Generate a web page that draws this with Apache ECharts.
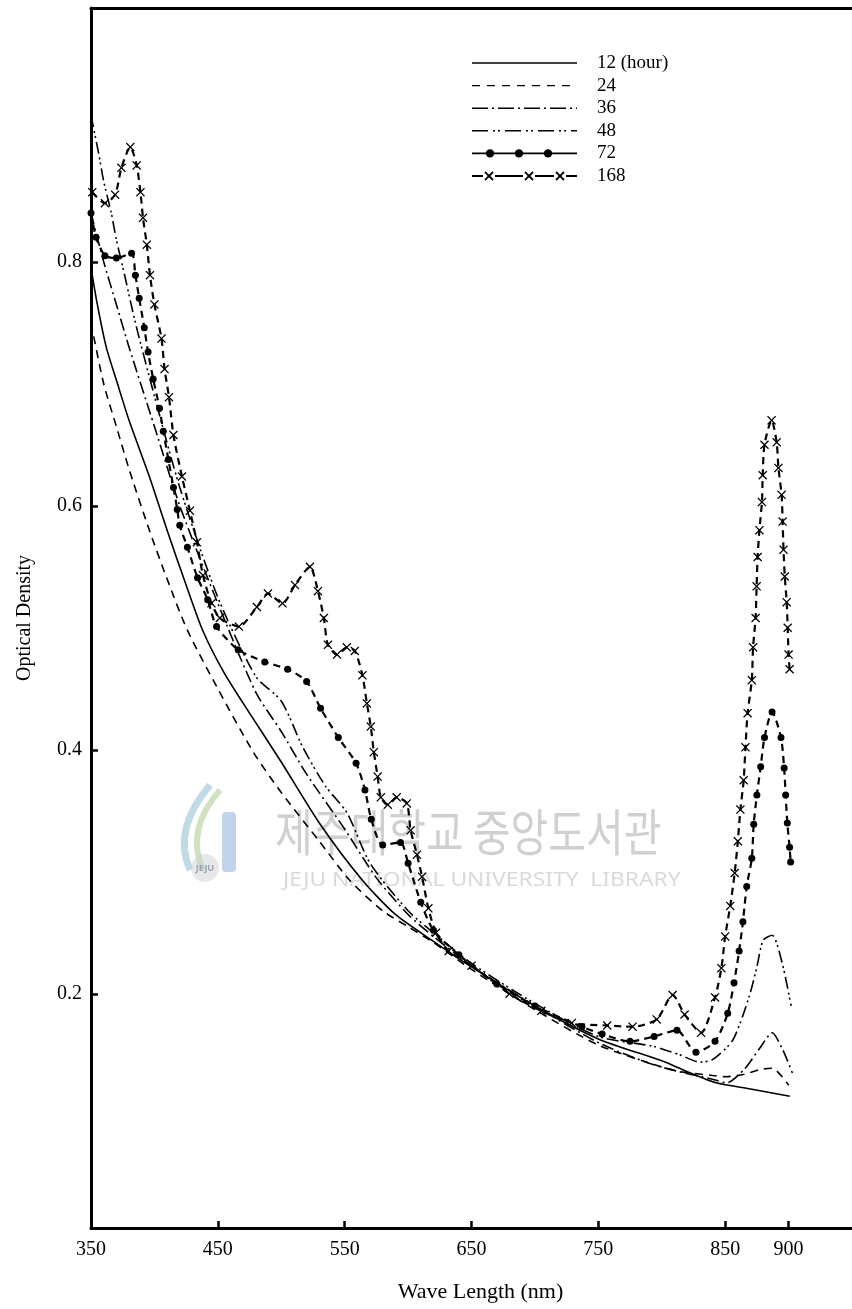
<!DOCTYPE html>
<html>
<head>
<meta charset="utf-8">
<script src="https://cdn.jsdelivr.net/npm/echarts@6/dist/echarts.min.js"></script>
<style>
  html, body { margin: 0; padding: 0; background: #fff; }
  #chart { width: 852px; height: 1309px; }
</style>
</head>
<body>
<div id="chart"></div>
<script>
// values
const hourNames = ["12 (hour)", "24", "36", "48", "72", "168"];
const xTicks = [350, 450, 550, 650, 750, 850, 900];
const yTicks = [0.2, 0.4, 0.6, 0.8];

const wl12 = [350, 355, 362, 370, 380, 396, 410, 425, 438, 455, 475, 500, 530, 564, 590, 620, 650, 700, 750, 800, 816, 843, 870, 885, 901];
const od12 = [0.795, 0.765, 0.73, 0.703, 0.67, 0.624, 0.58, 0.535, 0.498, 0.463, 0.43, 0.39, 0.34, 0.293, 0.265, 0.243, 0.222, 0.19, 0.163, 0.145, 0.138, 0.127, 0.122, 0.119, 0.116];

const wl24 = [350, 360, 370, 380, 396, 410, 426, 450, 478, 500, 530, 554, 580, 600, 620, 650, 700, 750, 800, 816, 840, 850, 865, 878, 887, 900];
const od24 = [0.75, 0.70, 0.665, 0.63, 0.58, 0.54, 0.498, 0.45, 0.398, 0.365, 0.325, 0.293, 0.268, 0.255, 0.242, 0.22, 0.187, 0.158, 0.14, 0.136, 0.133, 0.132, 0.134, 0.138, 0.139, 0.125];

const wl36 = [350, 360, 370, 380, 400, 420, 450, 480, 500, 520, 550, 575, 600, 620, 650, 700, 750, 790, 814, 840, 851, 865, 877, 887, 895, 903];
const od36 = [0.84, 0.80, 0.765, 0.73, 0.665, 0.60, 0.52, 0.447, 0.415, 0.38, 0.335, 0.295, 0.265, 0.247, 0.223, 0.19, 0.16, 0.143, 0.136, 0.13, 0.127, 0.138, 0.155, 0.168, 0.155, 0.135];

const wl48 = [350, 356, 360, 366, 370, 375, 385, 400, 420, 450, 480, 500, 517, 535, 552, 570, 600, 620, 650, 700, 750, 793, 814, 830, 840, 856, 869, 875, 880, 887, 895, 902];
const od48 = [0.92, 0.889, 0.866, 0.84, 0.818, 0.796, 0.75, 0.69, 0.615, 0.525, 0.46, 0.44, 0.402, 0.37, 0.348, 0.307, 0.268, 0.25, 0.225, 0.192, 0.165, 0.157, 0.15, 0.144, 0.146, 0.162, 0.198, 0.222, 0.244, 0.248, 0.225, 0.19];

const wl72 = [350, 354, 361, 370, 382, 385, 388, 392, 395, 399, 404, 407, 411, 415, 418, 420, 426, 434, 442, 449, 466, 487, 505, 520, 531, 545, 559, 566, 571, 580, 594, 600, 610, 620, 640, 670, 700, 737, 753, 775, 794, 812, 827, 842, 852, 857, 861, 864, 867, 871, 872.5, 875, 878, 881, 887, 894, 896.5, 897.7, 899, 900.8, 901.6];
const od72 = [0.84, 0.82, 0.805, 0.803, 0.807, 0.789, 0.77, 0.746, 0.726, 0.704, 0.68, 0.661, 0.638, 0.615, 0.597, 0.584, 0.566, 0.541, 0.523, 0.501, 0.482, 0.472, 0.466, 0.456, 0.434, 0.41, 0.389, 0.367, 0.343, 0.322, 0.324, 0.307, 0.275, 0.252, 0.232, 0.208, 0.19, 0.173, 0.167, 0.161, 0.165, 0.17, 0.152, 0.161, 0.184, 0.209, 0.235, 0.259, 0.288, 0.311, 0.339, 0.363, 0.386, 0.41, 0.431, 0.41, 0.385, 0.363, 0.34, 0.32, 0.308];

const wl168 = [351, 361, 369, 374, 381, 386, 389, 391, 394, 396.5, 400, 405.6, 408, 411.5, 415, 421.7, 428, 433.5, 438.3, 445, 451.6, 466.6, 480.8, 489.5, 501, 510.8, 522.6, 528.9, 533.6, 536.8, 544, 551.7, 558, 564, 567.5, 570.6, 573, 576, 578.5, 584, 591, 599, 602, 607, 611, 616, 622, 632, 650, 680, 705, 729, 757, 777, 796, 808.6, 818, 831, 842, 847, 850, 854, 857.5, 860, 862, 864.6, 866, 867.7, 871, 872, 874, 874.8, 875.6, 877, 879, 879.6, 881, 886.6, 890.6, 892, 894.5, 895.3, 896, 897, 898.5, 899.3, 900, 900.8];
const od168 = [0.857, 0.848, 0.855, 0.877, 0.894, 0.879, 0.857, 0.836, 0.814, 0.789, 0.765, 0.737, 0.712, 0.689, 0.658, 0.624, 0.596, 0.57, 0.543, 0.52, 0.508, 0.501, 0.517, 0.528, 0.52, 0.535, 0.55, 0.53, 0.508, 0.486, 0.478, 0.484, 0.481, 0.461, 0.438, 0.419, 0.398, 0.378, 0.361, 0.355, 0.361, 0.356, 0.334, 0.314, 0.296, 0.27, 0.25, 0.235, 0.223, 0.2, 0.186, 0.176, 0.174, 0.173, 0.179, 0.199, 0.183, 0.168, 0.197, 0.221, 0.247, 0.272, 0.299, 0.325, 0.351, 0.375, 0.402, 0.43, 0.457, 0.484, 0.508, 0.534, 0.558, 0.58, 0.603, 0.625, 0.65, 0.67, 0.652, 0.631, 0.609, 0.587, 0.564, 0.542, 0.521, 0.5, 0.478, 0.466];

const serif = "Liberation Serif, DejaVu Serif, serif";
const crossPath = "path://M0,1L1,0L5,4L9,0L10,1L6,5L10,9L9,10L5,6L1,10L0,9L4,5Z";

function pairs(xs, ys) {
  return xs.map((x, i) => [x, ys[i]]);
}

const seriesStyles = [
  { data: pairs(wl12, od12), dash: "solid", width: 1.6 },
  { data: pairs(wl24, od24), dash: [8, 6], width: 1.6 },
  { data: pairs(wl36, od36), dash: [12, 4, 2, 4], width: 1.6 },
  { data: pairs(wl48, od48), dash: [12, 4, 2, 3, 2, 4], width: 1.6 },
  { data: pairs(wl72, od72), dash: [7, 5], width: 2.2, symbol: "circle", symbolSize: 7 },
  { data: pairs(wl168, od168), dash: [7, 5], width: 2.2, symbol: crossPath, symbolSize: 9 }
];

const chart = echarts.init(document.getElementById("chart"));

// hand drawn key in the upper right, like the original figure
const keyLeft = 472, keyRight = 577, keyText = 597, keyTop = 63, keyStep = 22.6;
const keyDash = ["solid", [8, 7], [16, 4, 2, 4], [16, 5, 2, 3, 2, 5], "solid", "solid"];
const keyItems = [];
hourNames.forEach((name, i) => {
  const y = keyTop + i * keyStep;
  keyItems.push({
    type: "line",
    shape: { x1: keyLeft, y1: y, x2: keyRight, y2: y },
    style: { stroke: "#000", lineWidth: i >= 4 ? 1.8 : 1.4, lineDash: keyDash[i] === "solid" ? null : keyDash[i] }
  });
  keyItems.push({
    type: "text",
    style: { text: name, x: keyText, y: y, font: "19px " + serif, fill: "#000", verticalAlign: "middle" }
  });
});
[490, 519, 548].forEach(cx => {
  keyItems.push({ type: "circle", shape: { cx: cx, cy: keyTop + 4 * keyStep, r: 4.2 }, style: { fill: "#000" } });
});
[489, 529, 560].forEach(cx => {
  const cy = keyTop + 5 * keyStep;
  keyItems.push({ type: "rect", shape: { x: cx - 6, y: cy - 5, width: 12, height: 10 }, style: { fill: "#fff" } });
  keyItems.push({ type: "line", shape: { x1: cx - 4, y1: cy - 4, x2: cx + 4, y2: cy + 4 }, style: { stroke: "#000", lineWidth: 1.8 } });
  keyItems.push({ type: "line", shape: { x1: cx + 4, y1: cy - 4, x2: cx - 4, y2: cy + 4 }, style: { stroke: "#000", lineWidth: 1.8 } });
});

// library stamp of the scan
const stamp = [
  { type: "text", z: 0, x: 275, y: 832, scaleX: 0.82, style: { text: "제주대학교 중앙도서관", x: 0, y: 0, font: "50px 'Noto Sans CJK KR'", fill: "rgba(170,170,170,0.55)", verticalAlign: "middle" } },
  { type: "text", z: 0, x: 283, y: 881, scaleX: 1.2, style: { text: "JEJU NATIONAL UNIVERSITY  LIBRARY", x: 0, y: 0, font: "19px 'Noto Sans'", fill: "rgba(170,170,170,0.45)", verticalAlign: "middle" } },
  { type: "bezierCurve", z: 0, shape: { x1: 190, y1: 870, cpx1: 172, cpy1: 830, x2: 210, y2: 785 }, style: { stroke: "rgba(120,170,200,0.45)", lineWidth: 7, fill: null } },
  { type: "bezierCurve", z: 0, shape: { x1: 203, y1: 870, cpx1: 185, cpy1: 830, x2: 220, y2: 790 }, style: { stroke: "rgba(150,190,120,0.45)", lineWidth: 6, fill: null } },
  { type: "rect", z: 0, shape: { x: 222, y: 812, width: 14, height: 60, r: 4 }, style: { fill: "rgba(120,160,210,0.45)" } },
  { type: "circle", z: 0, shape: { cx: 205, cy: 868, r: 14 }, style: { fill: "rgba(210,210,210,0.5)" } },
  { type: "text", z: 0, style: { text: "JEJU", x: 205, y: 868, font: "bold 9px 'Noto Sans'", fill: "rgba(120,140,160,0.7)", align: "center", verticalAlign: "middle" } }
];

chart.setOption({
  animation: false,
  backgroundColor: "#fff",
  grid: { left: 91, right: 0, top: 8, bottom: 81 },
  xAxis: [
    {
      type: "value",
      min: 350,
      max: 950,
      name: "Wave Length (nm)",
      nameLocation: "middle",
      nameGap: 53,
      nameTextStyle: { fontFamily: serif, fontSize: 22, color: "#000", padding: [0, 0, 0, 18] },
      axisLine: { lineStyle: { color: "#000", width: 3 } },
      axisTick: { inside: true, length: 7, lineStyle: { color: "#000", width: 2.5 }, customValues: [450, 550, 650, 750, 850, 900] },
      axisLabel: { customValues: xTicks, fontFamily: serif, fontSize: 20, color: "#000", margin: 12 },
      splitLine: { show: false }
    },
    {
      type: "value",
      position: "top",
      min: 350,
      max: 950,
      axisLine: { lineStyle: { color: "#000", width: 3 } },
      axisTick: { show: false },
      axisLabel: { show: false },
      splitLine: { show: false }
    }
  ],
  yAxis: {
    type: "value",
    min: 0.008,
    max: 1.008,
    name: "Optical Density",
    nameLocation: "middle",
    nameGap: 56,
    nameTextStyle: { fontFamily: serif, fontSize: 20, color: "#000" },
    axisLine: { show: true, lineStyle: { color: "#000", width: 3 } },
    axisTick: { inside: true, length: 7, lineStyle: { color: "#000", width: 2.5 }, customValues: yTicks },
    axisLabel: { customValues: yTicks, formatter: v => v.toFixed(1), fontFamily: serif, fontSize: 20, color: "#000", margin: 9 },
    splitLine: { show: false }
  },
  graphic: { elements: stamp.concat(keyItems) },
  series: seriesStyles.map((s, i) => ({
    name: hourNames[i],
    type: "line",
    data: s.data,
    smooth: 0.25,
    showSymbol: !!s.symbol,
    symbol: s.symbol || "none",
    symbolSize: s.symbolSize || 0,
    itemStyle: { color: "#000" },
    lineStyle: { color: "#000", width: s.width, type: s.dash },
    z: 3
  }))
});
</script>
</body>
</html>
